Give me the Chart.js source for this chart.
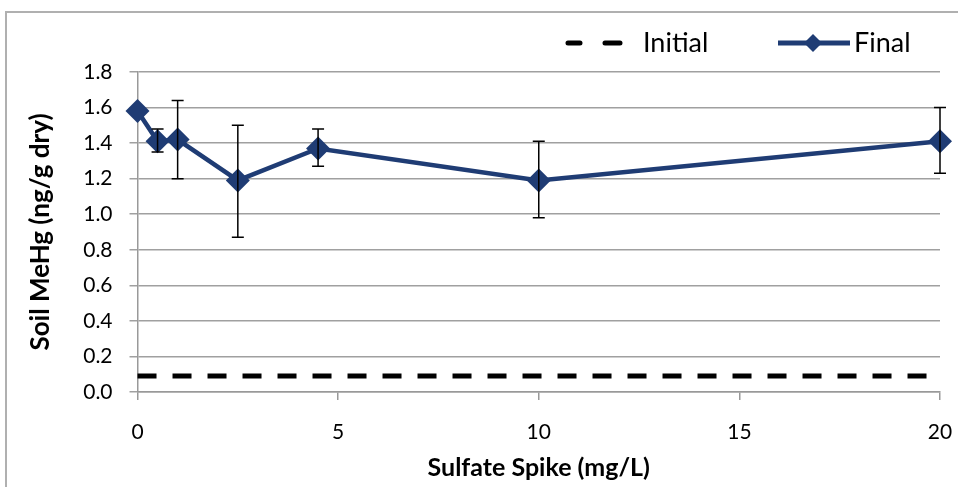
<!DOCTYPE html>
<html>
<head>
<meta charset="utf-8">
<script src="https://cdn.jsdelivr.net/npm/chart.js@4"></script>
<style>
  html, body { margin: 0; padding: 0; background: #fff; }
  #frame { position: absolute; left: 5px; top: 11px; width: 960px; height: 480px; border-left: 2px solid #b0b0b0; border-top: 2px solid #b0b0b0; }
  #wrap { position: absolute; left: 0; top: 0; width: 958px; height: 487px; }
</style>
</head>
<body>
<div id="frame"></div>
<div id="wrap"><canvas id="myChart" width="958" height="487"></canvas></div>
<script>
// data
var sulfate = [0, 0.5, 1, 2.5, 4.5, 10, 20];
var finalMeHg = [1.58, 1.41, 1.42, 1.19, 1.37, 1.19, 1.41];
var errHigh = [null, 1.48, 1.64, 1.50, 1.48, 1.41, 1.60];
var errLow = [null, 1.35, 1.20, 0.87, 1.27, 0.98, 1.23];
var initialX = [0, 20];
var initialMeHg = [0.09, 0.09];

var navy = '#1f3c74';
var font = 'Lato, "Open Sans", sans-serif';

var errorBars = {
    id: 'errorBars',
    afterDatasetsDraw: function (chart) {
        var ctx = chart.ctx;
        var xs = chart.scales.x, ys = chart.scales.y;
        ctx.save();
        ctx.strokeStyle = '#000';
        ctx.lineWidth = 1.5;
        for (var i = 0; i < sulfate.length; i++) {
            if (errHigh[i] == null) continue;
            var px = xs.getPixelForValue(sulfate[i]);
            var top = ys.getPixelForValue(errHigh[i]);
            var bot = ys.getPixelForValue(errLow[i]);
            ctx.beginPath();
            ctx.moveTo(px, top); ctx.lineTo(px, bot);
            ctx.moveTo(px - 6, top); ctx.lineTo(px + 6, top);
            ctx.moveTo(px - 6, bot); ctx.lineTo(px + 6, bot);
            ctx.stroke();
        }
        ctx.restore();
    }
};

var legendBox = {
    id: 'legendBox',
    afterDraw: function (chart) {
        var ctx = chart.ctx;
        var y = 43;
        ctx.save();
        // Initial
        ctx.strokeStyle = '#000';
        ctx.lineWidth = 5;
        ctx.lineCap = 'round';
        ctx.beginPath();
        ctx.moveTo(568, y); ctx.lineTo(580, y);
        ctx.moveTo(605, y); ctx.lineTo(620, y);
        ctx.stroke();
        ctx.fillStyle = '#000';
        ctx.font = '27px ' + font;
        ctx.textBaseline = 'middle';
        ctx.fillText(chart.data.datasets[0].label, 643, y);
        // Final
        ctx.strokeStyle = navy;
        ctx.lineWidth = 5;
        ctx.lineCap = 'butt';
        ctx.beginPath(); ctx.moveTo(778, y); ctx.lineTo(850, y); ctx.stroke();
        ctx.fillStyle = navy;
        ctx.beginPath();
        ctx.moveTo(813, y - 9); ctx.lineTo(822, y); ctx.lineTo(813, y + 9); ctx.lineTo(804, y);
        ctx.closePath(); ctx.fill();
        ctx.fillStyle = '#000';
        ctx.fillText(chart.data.datasets[1].label, 854, y);
        ctx.restore();
    }
};

var ctx = document.getElementById('myChart');

new Chart(ctx, {
    type: 'scatter',
    data: {
        datasets: [{
            label: 'Initial',
            data: initialX.map(function (x, i) { return { x: x, y: initialMeHg[i] }; }),
            showLine: true,
            borderColor: '#000',
            borderWidth: 5,
            borderDash: [19, 16],
            pointRadius: 0,
            clip: false
        }, {
            label: 'Final',
            data: sulfate.map(function (x, i) { return { x: x, y: finalMeHg[i] }; }),
            showLine: true,
            borderColor: navy,
            backgroundColor: navy,
            borderWidth: 4.5,
            pointStyle: 'rectRot',
            pointRadius: 12,
            pointBorderWidth: 0,
            clip: false
        }]
    },
    options: {
        responsive: false,
        animation: false,
        layout: { padding: { left: 21, right: 18, top: 72, bottom: 0 } },
        plugins: {
            legend: { display: false },
            tooltip: { enabled: false }
        },
        scales: {
            x: {
                type: 'linear',
                min: 0,
                max: 20,
                afterFit: function (scale) { scale.height = 95; scale.paddingRight = 0; },
                ticks: { stepSize: 5, color: '#000', font: { family: font, size: 21 }, padding: 20 },
                grid: { drawOnChartArea: false, color: '#999', tickLength: 8, lineWidth: 1.5 },
                border: { color: '#999', width: 1.5 },
                title: { display: true, text: 'Sulfate Spike (mg/L)', color: '#000', font: { family: font, size: 25, weight: 'bold' }, padding: { top: 4, bottom: 4 } }
            },
            y: {
                min: 0,
                max: 1.8,
                ticks: {
                    stepSize: 0.2, color: '#000', font: { family: font, size: 21 }, padding: 17,
                    callback: function (v) { return v.toFixed(1); }
                },
                grid: { color: '#a0a0a0', tickLength: 8, lineWidth: 1.5 },
                border: { color: '#999', width: 1.5 },
                title: { display: true, text: 'Soil MeHg (ng/g dry)', color: '#000', font: { family: font, size: 26, weight: 'bold' }, padding: { top: 4, bottom: 10 } }
            }
        }
    },
    plugins: [errorBars, legendBox]
});
</script>
</body>
</html>
